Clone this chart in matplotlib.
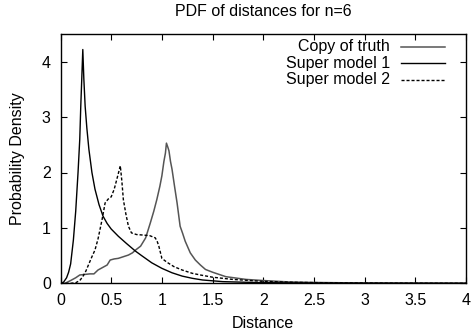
import matplotlib
matplotlib.use("Agg")
import matplotlib.pyplot as plt

plt.rcParams['font.family'] = ['Liberation Sans', 'DejaVu Sans']

title = "PDF of distances for n=6"
xlabel = "Distance"
ylabel = "Probability Density"
labels = ["Copy of truth", "Super model 1", "Super model 2"]

x_truth = [0, 0.045, 0.1, 0.15, 0.19, 0.24, 0.29, 0.33, 0.37, 0.42, 0.46, 0.49, 0.53,
           0.57, 0.62, 0.67, 0.71, 0.74, 0.79, 0.84, 0.886, 0.92, 0.95, 0.98, 1.0, 1.02,
           1.035, 1.045, 1.06, 1.07, 1.085, 1.1, 1.125, 1.15, 1.18, 1.205, 1.23, 1.28,
           1.33, 1.38, 1.43, 1.5, 1.63, 1.83, 2.0, 2.25, 2.5, 3.0, 3.5, 4.0]
y_truth = [0, 0, 0.05, 0.1, 0.15, 0.16, 0.17, 0.17, 0.24, 0.29, 0.33, 0.42, 0.44,
           0.45, 0.48, 0.51, 0.55, 0.6, 0.67, 0.82, 1.09, 1.3, 1.51, 1.75, 1.94, 2.2,
           2.35, 2.53, 2.45, 2.39, 2.2, 2.06, 1.75, 1.45, 1.03, 0.9, 0.76, 0.55,
           0.42, 0.33, 0.25, 0.2, 0.12, 0.07, 0.05, 0.025, 0.015, 0.005, 0.002, 0]

x_sm1 = [0, 0.03, 0.06, 0.08, 0.1, 0.127, 0.15, 0.173, 0.19, 0.2, 0.21, 0.22, 0.23,
         0.243, 0.26, 0.28, 0.31, 0.34, 0.38, 0.42, 0.46, 0.5, 0.57, 0.65, 0.74, 0.8,
         0.9, 1.0, 1.1, 1.2, 1.3, 1.4, 1.6, 1.8, 2.0, 2.5, 3.0, 4.0]
y_sm1 = [0, 0.02, 0.1, 0.2, 0.35, 0.78, 1.3, 2.0, 2.6, 3.2, 3.7, 4.22, 3.7,
         3.2, 2.8, 2.42, 2.0, 1.7, 1.42, 1.21, 1.08, 0.98, 0.85, 0.72, 0.58, 0.5,
         0.37, 0.27, 0.19, 0.13, 0.09, 0.06, 0.03, 0.02, 0.012, 0.004, 0.002, 0]

x_sm2 = [0.0, 0.1, 0.15, 0.19, 0.22, 0.25, 0.28, 0.31, 0.34, 0.37, 0.41, 0.44, 0.47,
         0.5, 0.53, 0.556, 0.59, 0.605, 0.62, 0.645, 0.67, 0.7, 0.75, 0.82, 0.88,
         0.935, 0.955, 0.97, 1.0, 1.05, 1.12, 1.2, 1.3, 1.38, 1.5, 1.7, 2.0, 2.3,
         2.7, 3.2, 4.0]
y_sm2 = [0, 0, 0.01, 0.05, 0.12, 0.22, 0.35, 0.48, 0.6, 0.8, 1.15, 1.45, 1.52,
         1.56, 1.7, 1.88, 2.12, 1.85, 1.51, 1.25, 1.03, 0.91, 0.88, 0.87, 0.86,
         0.82, 0.75, 0.67, 0.45, 0.38, 0.3, 0.24, 0.18, 0.15, 0.11, 0.07, 0.035,
         0.018, 0.008, 0.003, 0]

xticks = [0, 0.5, 1, 1.5, 2, 2.5, 3, 3.5, 4]
xticklabels = ["0", "0.5", "1", "1.5", "2", "2.5", "3", "3.5", "4"]
yticks = [0, 1, 2, 3, 4]

FS = 11.5

fig = plt.figure(figsize=(4.73, 3.34), dpi=100)
ax = fig.add_axes([60.5 / 473, (334 - 283.3) / 334, 405.5 / 473, 249.3 / 334])

styles = [dict(color="#555555", lw=1.1, ls="-"),
          dict(color="black", lw=1.0, ls="-"),
          dict(color="black", lw=1.0, ls=(0, (2.2, 1.4)))]
series = [(x_truth, y_truth), (x_sm1, y_sm1), (x_sm2, y_sm2)]

for (xs, ys), st, lab in zip(series, styles, labels):
    ax.plot(xs, ys, label=lab, **st)

ax.set_xlim(0, 4)
ax.set_ylim(0, 4.5)
ax.set_xticks(xticks)
ax.set_xticklabels(xticklabels)
ax.set_yticks(yticks)
ax.tick_params(direction="in", top=True, right=True, length=4, width=0.8,
               labelsize=FS)
ax.tick_params(axis="x", pad=7)
ax.tick_params(axis="y", pad=7)
for s in ax.spines.values():
    s.set_linewidth(1.0)

ax.set_title(title, fontsize=FS, pad=13)
ax.set_xlabel(xlabel, fontsize=FS, labelpad=6)
ax.set_ylabel(ylabel, fontsize=FS, labelpad=12)

# gnuplot-style key: right-aligned text, line sample to the right
key_y = [0.949, 0.8825, 0.8155]
for yk, st, lab in zip(key_y, styles, labels):
    ax.text(0.8126, yk, lab, transform=ax.transAxes, ha="right", va="center",
            fontsize=FS)
    ax.plot([0.8397, 0.948], [yk, yk], transform=ax.transAxes, **st)

fig.savefig("out.png", dpi=100)
